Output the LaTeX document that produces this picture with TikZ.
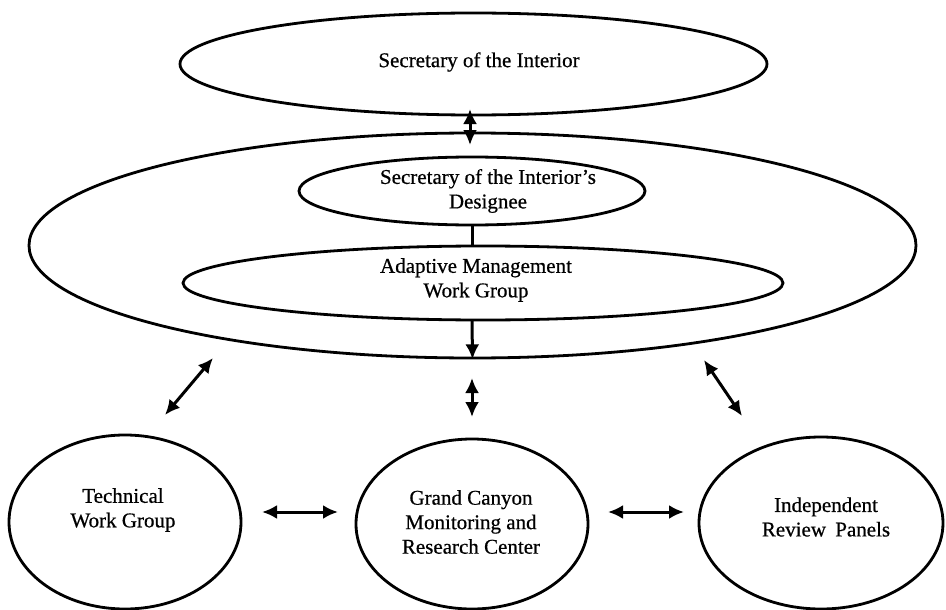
\documentclass[tikz,border=0pt]{standalone}
\usepackage{fontspec}
\setmainfont{Liberation Serif}
\newfontfamily\scanfont[FakeBold=0.6]{Liberation Serif}
\usetikzlibrary{shapes.geometric,arrows.meta}
\begin{document}
\begin{tikzpicture}[x=1pt,y=-1pt,
  oval/.style={draw, ellipse, line width=2.8pt, inner sep=0pt},
  lbl/.style={align=center, font=\scanfont\fontsize{21}{24.5}\selectfont, inner sep=0pt},
  conn/.style={line width=3pt},
  arr/.style={conn, -{Latex[length=15pt,width=14pt]}},
  dbl/.style={conn, {Latex[length=15pt,width=14pt]}-{Latex[length=15pt,width=14pt]}}]
\useasboundingbox (0,0) rectangle (946,610);
% ellipses
\node[oval, minimum width=587pt, minimum height=102pt] (sec) at (473.5,64) {};
\node[oval, minimum width=887pt, minimum height=225pt] (big) at (472.5,245.5) {};
\node[oval, minimum width=346pt, minimum height=68pt] (des) at (472,191) {};
\node[oval, minimum width=600pt, minimum height=74pt] (amwg) at (483,283) {};
\node[oval, minimum width=232pt, minimum height=174pt] (tech) at (125,522) {};
\node[oval, minimum width=232pt, minimum height=170pt] (gc) at (472,524) {};
\node[oval, minimum width=244pt, minimum height=172pt] (irp) at (821,523) {};
% texts
\node[lbl] (tsec) at (479,62) {Secretary of the Interior};
\node[lbl] (tdes) at (488,191) {Secretary of the Interior’s\\Designee};
\node[lbl] (tamwg) at (476,280) {Adaptive Management\\Work Group};
\node[lbl] (ttech) at (123,510) {Technical\\Work Group};
\node[lbl] (tgc) at (471,522) {Grand Canyon\\Monitoring and\\Research Center};
\node[lbl] (tirp) at (826,517) {Independent\\Review\hspace{4pt} Panels};
% connector end points
\coordinate (a1) at (470,109);
\coordinate (a2) at (470,145);
\coordinate (d1) at (472,320);
\coordinate (l1) at (213,358);
\coordinate (l2) at (165,415);
\coordinate (m1) at (472,378);
\coordinate (m2) at (472,417);
\coordinate (r1) at (704,360);
\coordinate (r2) at (742,416);
\coordinate (h1) at (262,512);
\coordinate (h2) at (338,512);
\coordinate (h3) at (608,512);
\coordinate (h4) at (684,512);
% connectors
\draw[dbl] (a1) -- (a2);
\draw[conn] (des.south) -- (des.south |- amwg.north);
\draw[arr] (d1) -- (big.south);
\draw[dbl] (l1) -- (l2);
\draw[dbl] (m1) -- (m2);
\draw[dbl] (r1) -- (r2);
\draw[dbl] (h1) -- (h2);
\draw[dbl] (h3) -- (h4);
\end{tikzpicture}
\end{document}
